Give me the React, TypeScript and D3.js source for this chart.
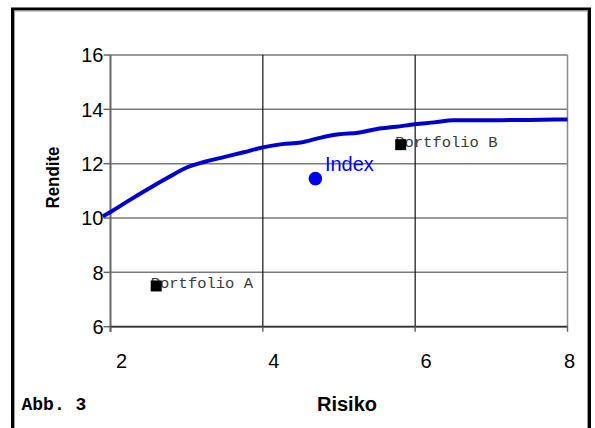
import React from "react";
import * as d3 from "d3";

const frontierRisk = [1.9, 2.0, 2.25, 2.5, 2.75, 3.0, 3.25, 3.5, 3.75, 4.0, 4.25, 4.5, 4.75, 5.0, 5.25, 5.5, 5.75, 6.0, 6.25, 6.5, 7.0, 7.5, 8.0];
const frontierReturn = [10.06, 10.22, 10.66, 11.08, 11.48, 11.86, 12.08, 12.25, 12.42, 12.6, 12.72, 12.78, 12.95, 13.08, 13.14, 13.28, 13.36, 13.45, 13.52, 13.6, 13.6, 13.61, 13.63];

const portfolioNames = ["Portfolio A", "Portfolio B"];
const portfolioRisk = [2.6, 5.81];
const portfolioReturn = [7.5, 12.7];

const indexName = "Index";
const indexRisk = 4.69;
const indexReturn = 11.45;

const xTicks = [2, 4, 6, 8];
const yTicks = [6, 8, 10, 12, 14, 16];
const xTitle = "Risiko";
const yTitle = "Rendite";
const caption = "Abb. 3";

const W = 595;
const H = 428;
const plot = { left: 110.5, right: 567.5, top: 55, bottom: 326.7 };

export default function App() {
  const x = d3.scaleLinear().domain([2, 8]).range([plot.left, plot.right]);
  const y = d3.scaleLinear().domain([6, 16]).range([plot.bottom, plot.top]);
  const pts: [number, number][] = frontierRisk.map((r, i) => [r, frontierReturn[i]]);
  const line = d3
    .line<[number, number]>()
    .x((d) => x(d[0]))
    .y((d) => y(d[1]))
    .curve(d3.curveMonotoneX);

  const sans = "'Liberation Sans', Arial, sans-serif";
  const mono = "'Liberation Mono', 'Courier New', monospace";

  return (
    <svg width={W} height={H} style={{ position: "absolute", left: 0, top: 0, background: "#fff" }}>
      <rect x={0} y={0} width={W} height={H} fill="#fff" />
      {/* frame */}
      <rect x={12.5} y={9} width={577} height={440} fill="none" stroke="#000" strokeWidth={3} />
      <rect x={14.5} y={11} width={573} height={436} fill="none" stroke="#999" strokeWidth={1} />

      {/* horizontal grid */}
      {yTicks.map((t) => (
        <line key={"hg" + t} x1={plot.left} x2={plot.right} y1={y(t)} y2={y(t)} stroke="#7a7a7a" strokeWidth={1.5} />
      ))}
      {/* vertical grid */}
      {xTicks
        .filter((t) => t !== 2 && t !== 8)
        .map((t) => (
          <line key={"vg" + t} x1={x(t)} x2={x(t)} y1={plot.top} y2={plot.bottom} stroke="#111" strokeWidth={1.2} />
        ))}
      {/* right border */}
      <line x1={x(8)} x2={x(8)} y1={plot.top} y2={plot.bottom} stroke="#8a8a8a" strokeWidth={1.5} />
      {/* y axis */}
      <line x1={x(2)} x2={x(2)} y1={plot.top} y2={plot.bottom + 5} stroke="#666" strokeWidth={2} />
      {/* x axis */}
      <line x1={plot.left} x2={plot.right} y1={y(6)} y2={y(6)} stroke="#333" strokeWidth={1.8} />

      {/* y ticks */}
      {yTicks.map((t) => (
        <g key={"yt" + t}>
          <line x1={plot.left - 7} x2={plot.left} y1={y(t)} y2={y(t)} stroke="#666" strokeWidth={1.5} />
          <text x={plot.left - 7} y={y(t)} dy="0.36em" textAnchor="end" fontFamily={sans} fontSize={20} fill="#000">
            {t}
          </text>
        </g>
      ))}
      {/* x ticks */}
      {xTicks.map((t) => (
        <g key={"xt" + t}>
          <line x1={x(t)} x2={x(t)} y1={y(6)} y2={y(6) + 5} stroke="#666" strokeWidth={1.5} />
          <text
            x={Math.min(x(t) + 11, x(8) + 2)}
            y={368}
            textAnchor="middle"
            fontFamily={sans}
            fontSize={20}
            fill="#000"
          >
            {t}
          </text>
        </g>
      ))}

      {/* axis titles */}
      <text x={347} y={411} textAnchor="middle" fontFamily={sans} fontSize={20} fontWeight="bold" fill="#000">
        {xTitle}
      </text>
      <text
        transform={`translate(59,177.5) rotate(-90)`}
        textAnchor="middle"
        fontFamily={sans}
        fontSize={19}
        fontWeight="bold"
        fill="#000"
        textLength={62}
        lengthAdjust="spacingAndGlyphs"
      >
        {yTitle}
      </text>

      {/* frontier */}
      <path d={line(pts) || ""} fill="none" stroke="#0000cc" strokeWidth={4} strokeLinejoin="round" />

      {/* portfolios */}
      {portfolioNames.map((n, i) => (
        <g key={n}>
          <text
            x={x(portfolioRisk[i]) - 5.5}
            y={y(portfolioReturn[i]) + 2}
            fontFamily={mono}
            fontSize={15.5}
            fill="#3a3a3a"
          >
            {n}
          </text>
          <rect
            x={x(portfolioRisk[i]) - 5.5}
            y={y(portfolioReturn[i]) - 5.5}
            width={11}
            height={11}
            fill="#000"
          />
        </g>
      ))}

      {/* index */}
      <circle cx={x(indexRisk)} cy={y(indexReturn)} r={6.8} fill="#0000ee" />
      <text x={x(indexRisk) + 9.5} y={y(indexReturn) - 7.5} fontFamily={sans} fontSize={20} fill="#0000ff">
        {indexName}
      </text>

      {/* caption */}
      <text x={21.5} y={410} fontFamily={mono} fontSize={18} fontWeight="bold" fill="#000">
        {caption}
      </text>
    </svg>
  );
}
